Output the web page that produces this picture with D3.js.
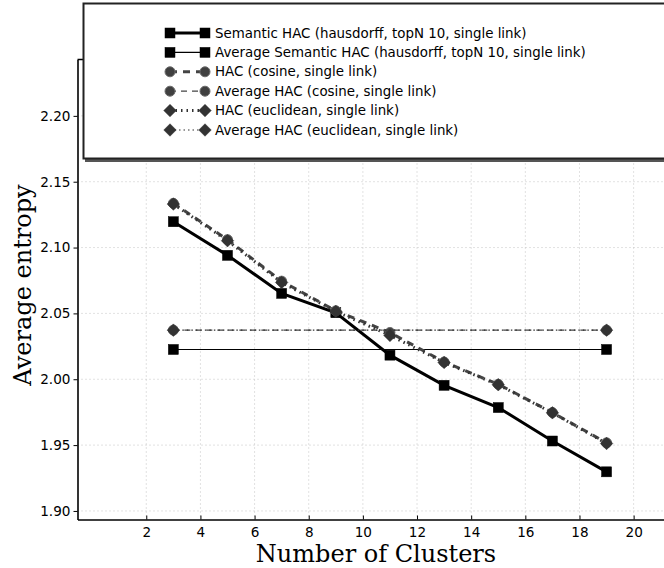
<!DOCTYPE html>
<html>
<head>
<meta charset="utf-8">
<script src="https://cdn.jsdelivr.net/npm/d3@7"></script>
<style>
  body { margin: 0; background: #fff; }
  svg { display: block; }
</style>
</head>
<body>
<div id="chart"></div>
<script>
// Data
var clusters = [3, 5, 7, 9, 11, 13, 15, 17, 19];
var avgClusters = [3, 19];
var semantic = [2.1196, 2.0941, 2.0652, 2.0505, 2.0183, 1.9954, 1.9785, 1.9531, 1.9297];
var semanticAvg = [2.0226, 2.0226];
var cosine = [2.1336, 2.1060, 2.0745, 2.0520, 2.0355, 2.0131, 1.9962, 1.9747, 1.9517];
var cosineAvg = [2.0373, 2.0373];
var euclid = [2.1330, 2.1052, 2.0735, 2.0515, 2.0333, 2.0128, 1.9958, 1.9745, 1.9512];
var euclidAvg = [2.0373, 2.0373];
var xTicks = [2, 4, 6, 8, 10, 12, 14, 16, 18, 20];
var yTicks = [1.90, 1.95, 2.00, 2.05, 2.10, 2.15, 2.20];
var legendLabels = [
  "Semantic HAC (hausdorff, topN 10, single link)",
  "Average Semantic HAC (hausdorff, topN 10, single link)",
  "HAC (cosine, single link)",
  "Average HAC (cosine, single link)",
  "HAC (euclidean, single link)",
  "Average HAC (euclidean, single link)"
];

var svgWidth = 664;
var svgHeight = 568;
var margin = { top: 59.5, left: 77.5 };
var width = 600;
var height = 460;

var svg = d3.select("#chart")
  .append("svg")
  .attr("width", svgWidth)
  .attr("height", svgHeight);

var chartGroup = svg.append("g")
  .attr("transform", `translate(${margin.left}, ${margin.top})`);

var xScale = d3.scaleLinear().domain([-0.54, 21.62]).range([0, width]);
var yScale = d3.scaleLinear().domain([1.8935, 2.2428]).range([height, 0]);

// grid
chartGroup.append("g").selectAll("line")
  .data(xTicks).enter().append("line")
  .attr("x1", d => xScale(d)).attr("x2", d => xScale(d))
  .attr("y1", 0).attr("y2", height)
  .attr("stroke", "#c4c4c4").attr("stroke-dasharray", "1,3");
chartGroup.append("g").selectAll("line")
  .data(yTicks).enter().append("line")
  .attr("x1", 0).attr("x2", width)
  .attr("y1", d => yScale(d)).attr("y2", d => yScale(d))
  .attr("stroke", "#c4c4c4").attr("stroke-dasharray", "1,3");

// axes
var bottomAxis = d3.axisBottom(xScale).tickValues(xTicks).tickSizeInner(-4).tickSizeOuter(0).tickPadding(8);
var leftAxis = d3.axisLeft(yScale).tickValues(yTicks).tickFormat(d3.format(".2f")).tickSizeInner(4).tickSizeOuter(0).tickPadding(3);

var xAxis = chartGroup.append("g")
  .attr("transform", `translate(0, ${height})`)
  .call(bottomAxis);
var yAxis = chartGroup.append("g").call(leftAxis);

[xAxis, yAxis].forEach(function(ax) {
  ax.select(".domain").attr("stroke", "#000").attr("stroke-width", 1.6);
  ax.selectAll(".tick line").attr("stroke", "#000").attr("stroke-width", 1);
  ax.selectAll("text")
    .attr("font-family", "DejaVu Sans")
    .attr("font-size", 13.6)
    .attr("fill", "#000");
});

// top spine
chartGroup.append("line")
  .attr("x1", 0).attr("x2", width).attr("y1", 0).attr("y2", 0)
  .attr("stroke", "#000").attr("stroke-width", 1.6);

// series
var series = [
  { x: clusters, y: semantic, color: "#000", width: 3, dash: null, marker: "square", mfill: "#000", mstroke: "#000" },
  { x: avgClusters, y: semanticAvg, color: "#000", width: 1.2, dash: null, marker: "square", mfill: "#000", mstroke: "#000" },
  { x: clusters, y: cosine, color: "#444", width: 3, dash: "7,6", marker: "circle", mfill: "#404040", mstroke: "#6a6a6a" },
  { x: avgClusters, y: cosineAvg, color: "#444", width: 1.2, dash: "6,5", marker: "circle", mfill: "#404040", mstroke: "#6a6a6a" },
  { x: clusters, y: euclid, color: "#333", width: 3, dash: "1.5,4", marker: "diamond", mfill: "#333", mstroke: "#333" },
  { x: avgClusters, y: euclidAvg, color: "#333", width: 1.2, dash: "1.5,3", marker: "diamond", mfill: "#333", mstroke: "#333" }
];

var line = d3.line().x(d => xScale(d[0])).y(d => yScale(d[1]));

function drawMarker(g, type, cx, cy, fill, stroke, s) {
  if (type === "square") {
    g.append("rect").attr("x", cx - s).attr("y", cy - s)
      .attr("width", 2 * s).attr("height", 2 * s)
      .attr("fill", fill).attr("stroke", stroke).attr("stroke-width", 0.5);
  } else if (type === "circle") {
    g.append("circle").attr("cx", cx).attr("cy", cy).attr("r", s)
      .attr("fill", fill).attr("stroke", stroke).attr("stroke-width", 1);
  } else {
    var r = s * 1.25;
    g.append("path")
      .attr("d", `M${cx},${cy - r}L${cx + r},${cy}L${cx},${cy + r}L${cx - r},${cy}Z`)
      .attr("fill", fill).attr("stroke", stroke).attr("stroke-width", 0.5);
  }
}

series.forEach(function(s) {
  var pts = s.x.map((v, i) => [v, s.y[i]]);
  chartGroup.append("path")
    .datum(pts)
    .attr("d", line)
    .attr("fill", "none")
    .attr("stroke", s.color)
    .attr("stroke-width", s.width)
    .attr("stroke-dasharray", s.dash);
  var mg = chartGroup.append("g");
  pts.forEach(function(p) {
    drawMarker(mg, s.marker, xScale(p[0]), yScale(p[1]), s.mfill, s.mstroke, 5);
  });
});

// legend
var legend = svg.append("g");
legend.append("rect")
  .attr("x", 85).attr("y", 5).attr("width", 700).attr("height", 157)
  .attr("fill", "#555");
legend.append("rect")
  .attr("x", 83.5).attr("y", 3.5).attr("width", 700).attr("height", 155)
  .attr("fill", "#fff").attr("stroke", "#222").attr("stroke-width", 2);

series.forEach(function(s, i) {
  var cy = 33 + i * 19.4;
  legend.append("line")
    .attr("x1", 170).attr("x2", 205).attr("y1", cy).attr("y2", cy)
    .attr("stroke", s.color).attr("stroke-width", s.width)
    .attr("stroke-dasharray", s.dash);
  drawMarker(legend, s.marker, 170, cy, s.mfill, s.mstroke, 5);
  drawMarker(legend, s.marker, 205, cy, s.mfill, s.mstroke, 5);
  legend.append("text")
    .attr("x", 215).attr("y", cy)
    .attr("dy", "0.35em")
    .attr("font-family", "DejaVu Sans")
    .attr("font-size", 13.4)
    .text(legendLabels[i]);
});

// axis labels
svg.append("text")
  .attr("x", 376).attr("y", 562)
  .attr("text-anchor", "middle")
  .attr("font-family", "DejaVu Serif")
  .attr("font-size", 24)
  .text("Number of Clusters");

svg.append("text")
  .attr("transform", "translate(31, 285) rotate(-90)")
  .attr("text-anchor", "middle")
  .attr("font-family", "DejaVu Serif")
  .attr("font-size", 24)
  .text("Average entropy");
</script>
</body>
</html>
